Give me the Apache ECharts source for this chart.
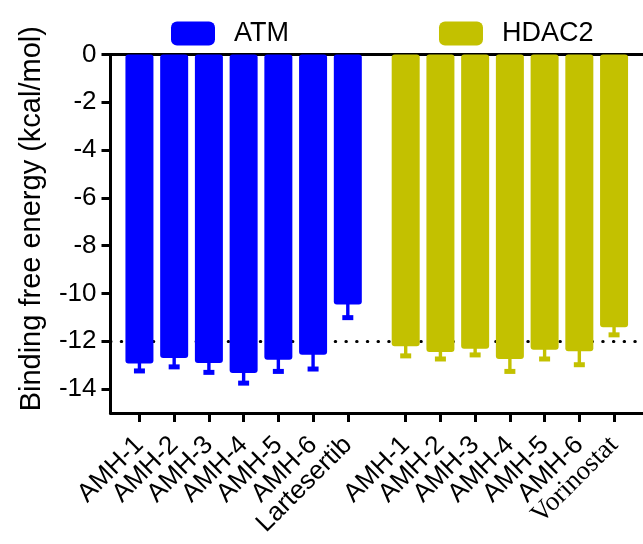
<!DOCTYPE html>
<html>
<head>
<meta charset="utf-8">
<script src="https://cdn.jsdelivr.net/npm/echarts@6/dist/echarts.min.js"></script>
<style>
  html, body { margin: 0; padding: 0; background: #fff; }
  #chart { width: 643px; height: 544px; }
</style>
</head>
<body>
<div id="chart"></div>
<script>
const atmNames = ['AMH-1', 'AMH-2', 'AMH-3', 'AMH-4', 'AMH-5', 'AMH-6', 'Lartesertib']
const atmValues = [-12.93, -12.70, -12.91, -13.33, -12.77, -12.56, -10.46]
const atmErrors = [0.31, 0.37, 0.39, 0.42, 0.49, 0.60, 0.55]

const hdacNames = ['AMH-1', 'AMH-2', 'AMH-3', 'AMH-4', 'AMH-5', 'AMH-6', 'Vorinostat']
const hdacValues = [-12.21, -12.45, -12.31, -12.74, -12.35, -12.42, -11.41]
const hdacErrors = [0.40, 0.29, 0.26, 0.52, 0.39, 0.56, 0.32]

const yMin = -15
const yTicks = [-14, -12, -10, -8, -6, -4, -2, 0]
const refLine = -12

// fine category grid: each bar every 3 slots, wider gap between groups
const SLOTS = 46
const atmStart = 2
const hdacStart = 25
const STEP = 3

const ATM_COLOR = '#0000FF'
const HDAC_COLOR = '#C3C100'

const GRID_LEFT = 110.5
const GRID_TOP = 54.5
const GRID_W = 542
const GRID_H = 358.5

const categories = new Array(SLOTS).fill('')
const atmData = new Array(SLOTS).fill(null)
const hdacData = new Array(SLOTS).fill(null)
const atmErr = []
const hdacErr = []
atmNames.forEach((n, i) => {
  const k = atmStart + i * STEP
  categories[k] = n
  atmData[k] = atmValues[i]
  atmErr.push([k, atmValues[i], atmErrors[i]])
})
hdacNames.forEach((n, i) => {
  const k = hdacStart + i * STEP
  categories[k] = n
  hdacData[k] = hdacValues[i]
  hdacErr.push([k, hdacValues[i], hdacErrors[i]])
})

const renderErr = (color) => (params, api) => {
  const x = api.value(0)
  const v = api.value(1)
  const e = api.value(2)
  const p0 = api.coord([x, v])
  const p1 = api.coord([x, v - e])
  return {
    type: 'group',
    children: [
      {
        type: 'rect',
        shape: { x: p0[0] - 1.7, y: p0[1] - 2, width: 3.4, height: p1[1] - p0[1] + 2 },
        style: { fill: color },
      },
      {
        type: 'rect',
        shape: { x: p1[0] - 5.5, y: p1[1] - 2.5, width: 11, height: 5 },
        style: { fill: color },
      },
    ],
  }
}

const isShown = (index) => categories[index] !== ''

const chart = echarts.init(document.getElementById('chart'))
chart.setOption({
  animation: false,
  textStyle: { fontFamily: 'Liberation Sans, Arial, sans-serif', color: '#000' },
  legend: {
    data: ['ATM', 'HDAC2'],
    left: 166,
    top: 15,
    itemWidth: 44,
    itemHeight: 24,
    itemGap: 150,
    icon: 'roundRect',
    textStyle: { fontSize: 27, color: '#000', padding: [0, 0, 0, 14] },
  },
  grid: [
    { left: GRID_LEFT, top: GRID_TOP, width: GRID_W, height: GRID_H },
    // tick grid: same scale, stops at the lowest tick (-14)
    { left: GRID_LEFT, top: GRID_TOP, width: GRID_W, height: (GRID_H * yTicks[0]) / yMin },
  ],
  xAxis: [
    {
      type: 'category',
      data: categories,
      axisLine: { onZero: false, lineStyle: { color: '#000', width: 3 } },
      axisTick: {
        show: true,
        alignWithLabel: true,
        interval: isShown,
        length: 9,
        lineStyle: { color: '#000', width: 3 },
      },
      axisLabel: {
        // interval 0 keeps every label; empty slots simply print nothing
        interval: 0,
        hideOverlap: false,
        rotate: 45,
        margin: 28,
        fontSize: 26,
        color: '#000',
        formatter: (v) => (v === 'Vorinostat' ? '{s|' + v + '}' : v),
        rich: {
          s: { fontFamily: 'Liberation Serif, Times New Roman, serif', fontSize: 27, color: '#000' },
        },
      },
      splitLine: { show: false },
    },
    {
      type: 'category',
      position: 'top',
      data: categories,
      axisLine: { onZero: false, lineStyle: { color: '#000', width: 3 } },
      axisTick: { show: false },
      axisLabel: { show: false },
    },
    {
      type: 'value',
      gridIndex: 1,
      axisLine: { show: false },
      axisTick: { show: false },
      axisLabel: { show: false },
      splitLine: { show: false },
    },
  ],
  yAxis: [
    {
      type: 'value',
      min: yMin,
      max: 0,
      name: 'Binding free energy (kcal/mol)',
      nameLocation: 'middle',
      nameGap: 64,
      nameTextStyle: { fontSize: 29, color: '#000', padding: [0, 0, 0, 30] },
      axisLine: { show: true, lineStyle: { color: '#000', width: 3 } },
      axisTick: { show: false },
      axisLabel: { show: false },
      splitLine: { show: false },
    },
    {
      type: 'category',
      gridIndex: 1,
      data: yTicks.map(String),
      boundaryGap: false,
      axisLine: { show: true, onZero: false, lineStyle: { color: '#000', width: 3 } },
      axisTick: { show: true, interval: 0, length: 9, lineStyle: { color: '#000', width: 3 } },
      axisLabel: { interval: 0, fontSize: 26, color: '#000', margin: 14 },
      splitLine: { show: false },
    },
  ],
  series: [
    {
      name: 'ATM',
      type: 'bar',
      data: atmData,
      barWidth: 28,
      barGap: '-100%',
      z: 3,
      itemStyle: { color: ATM_COLOR, borderRadius: 3 },
      markLine: {
        silent: true,
        symbol: 'none',
        z: 1,
        label: { show: false },
        lineStyle: { color: '#000', width: 3, type: [0.5, 10.2], cap: 'round' },
        data: [{ yAxis: refLine }],
      },
    },
    {
      name: 'HDAC2',
      type: 'bar',
      data: hdacData,
      barWidth: 28,
      barGap: '-100%',
      z: 3,
      itemStyle: { color: HDAC_COLOR, borderRadius: 3 },
    },
    {
      name: 'ATM err',
      type: 'custom',
      data: atmErr,
      z: 3,
      renderItem: renderErr(ATM_COLOR),
    },
    {
      name: 'HDAC2 err',
      type: 'custom',
      data: hdacErr,
      z: 3,
      renderItem: renderErr(HDAC_COLOR),
    },
  ],
})
</script>
</body>
</html>
